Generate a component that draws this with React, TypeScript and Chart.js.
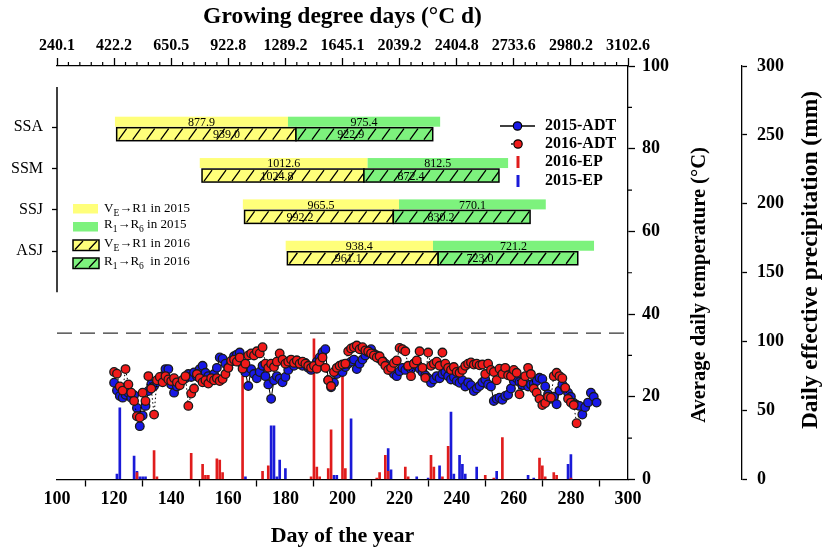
import React, { useEffect, useRef } from 'react';
import { Chart, registerables } from 'chart.js';
Chart.register(...registerables);

const FONT = "'Liberation Serif', 'Times New Roman', Times, serif";

// ---------- data ----------
const categories = ['SSA', 'SSM', 'SSJ', 'ASJ'];
const categoryLevels = [85.2, 75.2, 65.2, 55.2]; // position of each category on the temperature axis
const separatorLevel = 35.4;
const leftAxisTop = 94.9;
const leftAxisBottom = 45.3;

const gddTickLabels = ['240.1', '422.2', '650.5', '922.8', '1289.2', '1645.1', '2039.2', '2404.8', '2733.6', '2980.2', '3102.6'];

// phenology (day of year)
const ve2015 = [120.3, 150.0, 165.1, 180.1];
const r1_2015 = [180.9, 208.8, 219.8, 231.7];
const r6_2015 = [234.2, 258.0, 271.2, 288.1];
const ve2016 = [120.9, 150.8, 165.7, 180.7];
const r1_2016 = [183.7, 207.5, 217.8, 233.5];
const r6_2016 = [231.6, 254.8, 265.7, 282.4];
// accumulated GDD labels
const gddVeR1_2015 = ['877.9', '1012.6', '965.5', '938.4'];
const gddR1R6_2015 = ['975.4', '812.5', '770.1', '721.2'];
const gddVeR1_2016 = ['939.0', '1024.8', '992.2', '961.1'];
const gddR1R6_2016 = ['922.9', '872.4', '830.2', '723.0'];
const labelDayVeR1_2016 = [159.4, 177.1, 185.1, 202.0];
const labelDayR1R6_2016 = [202.9, 224.0, 234.5, 248.2];

// average daily temperature, starting day 120
const adtStartDay = 120;
const adt2015 = [
  23.4, 21.5, 20.2, 19.8, 20.5, 21.0, 19.8, 20.4, 17.3, 12.9,
  15.5, 17.8, 21.4, 23.0, 22.6, 23.5, 24.3, 25.0, 26.7, 26.7,
  23.0, 21.0, 22.5, 23.4, 24.0, 24.5, 25.5, 24.8, 25.9, 25.0,
  26.7, 27.5, 25.8, 25.0, 24.2, 25.5, 27.0, 29.5, 29.2, 28.0,
  27.0, 28.5, 29.8, 30.2, 30.7, 27.5, 25.9, 22.6, 26.7, 25.5,
  24.5, 26.0, 27.5, 25.0, 23.0, 19.5, 24.0, 25.0, 24.4, 23.5,
  24.8, 26.5, 28.3, 27.5, 28.8, 28.0, 27.5, 28.2, 27.0, 26.5,
  27.2, 28.5, 29.5, 30.8, 31.5, 24.0, 22.3, 23.4, 25.5, 26.8,
  26.0, 27.2, 28.0, 28.5, 29.0, 26.7, 28.0, 29.0, 30.0, 30.8,
  31.5, 30.4, 30.0, 29.2, 28.7, 28.0, 27.0, 26.3, 25.5, 25.0,
  26.2, 27.0, 26.5, 27.3, 26.7, 28.0, 27.5, 26.8, 26.0, 25.2,
  24.5, 23.4, 24.2, 25.0, 24.5, 25.5, 26.0, 25.0, 24.2, 24.8,
  23.8, 23.4, 24.0, 22.5, 23.5, 22.8, 21.4, 22.0, 22.6, 23.5,
  24.2, 23.0, 22.5, 19.0, 19.5, 19.8, 19.3, 20.2, 20.5, 22.0,
  23.8, 24.5, 23.6, 22.8, 23.4, 22.5, 23.0, 23.2, 23.8, 24.6,
  24.3, 22.5, 20.6, 19.5, 20.0, 18.2, 21.5, 23.0, 22.0, 21.0,
  20.0, 18.5, 18.0, 17.8, 15.7, 17.5, 18.6, 21.0, 20.0, 18.6,
];
const adt2016 = [
  26.0, 25.6, 22.5, 21.5, 26.7, 23.0, 21.0, 19.0, 15.3, 15.0,
  21.0, 19.0, 25.0, 22.0, 15.7, 24.0, 24.8, 23.5, 25.0, 24.2,
  23.8, 24.5, 23.5, 22.8, 24.0, 25.0, 17.8, 20.8, 22.0, 25.5,
  24.5, 23.5, 24.0, 23.2, 24.5, 24.0, 24.5, 23.8, 24.3, 25.5,
  27.0, 28.7, 29.0, 28.5, 29.5, 26.8, 28.0, 30.0, 30.5, 30.0,
  31.0, 30.5, 32.0, 28.0, 27.0, 28.0, 27.2, 28.5, 30.5, 29.0,
  28.0, 28.5, 29.0, 28.2, 28.8, 28.0, 28.5, 28.0, 27.5, 27.0,
  27.5, 26.8, 28.5, 29.5, 27.0, 24.0, 22.6, 26.0, 27.0, 27.5,
  27.8, 28.0, 31.0, 31.7, 32.0, 32.4, 31.5, 32.0, 31.2, 31.0,
  30.5, 30.0, 29.5, 29.8, 28.5, 27.5, 26.5, 27.0, 28.2, 28.8,
  31.8, 31.5, 31.0, 27.5, 25.0, 28.0, 28.8, 31.0, 27.0, 24.6,
  30.7, 27.5, 28.0, 28.5, 27.5, 30.7, 28.0, 27.0, 26.5, 27.2,
  26.0, 25.8, 26.5, 27.5, 28.0, 28.3, 27.8, 28.0, 27.6, 27.8,
  25.5, 28.0, 26.5, 26.0, 24.0, 26.8, 25.5, 27.0, 25.2, 25.0,
  26.5, 25.8, 20.6, 23.5, 25.0, 27.0, 25.5, 22.0, 21.0, 19.5,
  18.0, 18.5, 20.0, 19.8, 25.0, 25.8, 25.0, 24.5, 22.2, 19.5,
  18.6, 18.0, 13.6,
];

// daily effective precipitation (mm)
const ep2015Days = [121, 122, 127, 128, 129, 130, 131, 166, 175, 176, 177, 178, 180, 197, 198, 203, 216, 217, 226, 230, 234, 238, 239, 241, 242, 243, 247, 254, 265, 267, 279, 280];
const ep2015 = [4, 52, 17, 6, 2, 2, 2, 2, 39, 39, 2, 14, 8, 3, 3, 44, 22.5, 7, 2, 1, 10, 49, 4, 17.5, 11, 4, 9, 6, 3, 1, 11, 18];
const ep2016Days = [128, 134, 135, 147, 151, 152, 153, 156, 157, 158, 165, 172, 174, 189, 190, 191, 192, 195, 196, 200, 201, 212, 213, 215, 216, 222, 223, 231, 232, 235, 237, 250, 253, 256, 269, 270, 271, 274, 275, 280];
const ep2016 = [5, 21, 2, 19, 11, 3, 3, 15, 14, 5, 75, 6, 10, 2, 102, 9, 2, 8, 36, 76, 8, 1, 5, 17.5, 6, 9, 2, 17.5, 9, 2, 24, 3, 1, 30.5, 15.5, 10, 2, 5, 3, 1];

// ---------- styles ----------
const YELLOW = '#ffff7a';
const GREEN = '#7df27d';
const RED = '#f01a1a';
const BLUE = '#1818e6';
const RED_BAR = '#e01c1c';
const BLUE_BAR = '#1a1ad8';

function drawHatched(ctx: CanvasRenderingContext2D, x0: number, y0: number, w: number, h: number, fill: string) {
  ctx.save();
  ctx.fillStyle = fill;
  ctx.fillRect(x0, y0, w, h);
  ctx.beginPath();
  ctx.rect(x0, y0, w, h);
  ctx.clip();
  ctx.strokeStyle = '#000';
  ctx.lineWidth = 1.3;
  ctx.beginPath();
  for (let sx = x0 + 2; sx < x0 + w + 2; sx += 14) {
    ctx.moveTo(sx, y0 + h - 1);
    ctx.lineTo(sx + 8, y0 + 1);
  }
  ctx.stroke();
  ctx.restore();
  ctx.save();
  ctx.strokeStyle = '#000';
  ctx.lineWidth = 1.5;
  ctx.strokeRect(x0, y0, w, h);
  ctx.restore();
}

type Part = { t: string; sub?: boolean };
function drawRich(ctx: CanvasRenderingContext2D, x: number, baseline: number, parts: Part[]) {
  let cx = x;
  ctx.textAlign = 'left';
  ctx.textBaseline = 'alphabetic';
  for (const p of parts) {
    ctx.font = p.sub ? `9.5px ${FONT}` : `13px ${FONT}`;
    ctx.fillText(p.t, cx, baseline + (p.sub ? 3.5 : 0));
    cx += ctx.measureText(p.t).width;
  }
}

const overlayPlugin = {
  id: 'overlay',
  afterDatasetsDraw(chart: any) {
    const ctx: CanvasRenderingContext2D = chart.ctx;
    const x = chart.scales.x;
    const y = chart.scales.y;
    const area = chart.chartArea;
    ctx.save();
    // dashed separator
    ctx.strokeStyle = '#333';
    ctx.lineWidth = 1.3;
    ctx.setLineDash([15, 8]);
    const ys = y.getPixelForValue(separatorLevel);
    ctx.beginPath();
    ctx.moveTo(area.left, ys);
    ctx.lineTo(area.right - 2, ys);
    ctx.stroke();
    ctx.setLineDash([]);
    // left axis segment
    ctx.strokeStyle = '#000';
    ctx.lineWidth = 1.5;
    ctx.beginPath();
    ctx.moveTo(area.left, y.getPixelForValue(leftAxisTop));
    ctx.lineTo(area.left, y.getPixelForValue(leftAxisBottom));
    ctx.stroke();

    // gantt bars
    categories.forEach((_c, i) => {
      const cp = y.getPixelForValue(categoryLevels[i]);
      const a = x.getPixelForValue(ve2015[i]);
      const b = x.getPixelForValue(r1_2015[i]);
      const e = x.getPixelForValue(r6_2015[i]);
      const t15 = cp - 10.5;
      const h15 = 10;
      ctx.fillStyle = YELLOW;
      ctx.fillRect(a, t15, b - a, h15);
      ctx.fillStyle = GREEN;
      ctx.fillRect(b, t15, e - b, h15);

      const a2 = x.getPixelForValue(ve2016[i]);
      const b2 = x.getPixelForValue(r1_2016[i]);
      const e2 = x.getPixelForValue(r6_2016[i]);
      const t16 = cp + 0.5;
      const h16 = 13;
      drawHatched(ctx, a2, t16, b2 - a2, h16, YELLOW);
      drawHatched(ctx, b2, t16, e2 - b2, h16, GREEN);

      ctx.fillStyle = '#000';
      ctx.font = `12px ${FONT}`;
      ctx.textAlign = 'center';
      ctx.textBaseline = 'middle';
      ctx.fillText(gddVeR1_2015[i], (a + b) / 2, t15 + h15 / 2 + 1);
      ctx.fillText(gddR1R6_2015[i], (b + e) / 2, t15 + h15 / 2 + 1);
      ctx.fillText(gddVeR1_2016[i], x.getPixelForValue(labelDayVeR1_2016[i]), t16 + h16 / 2 + 1);
      ctx.fillText(gddR1R6_2016[i], x.getPixelForValue(labelDayR1R6_2016[i]), t16 + h16 / 2 + 1);
    });

    // phase legend (left)
    ctx.fillStyle = YELLOW;
    ctx.fillRect(73, 204, 25, 9.5);
    ctx.fillStyle = GREEN;
    ctx.fillRect(73, 222, 25, 9.5);
    drawHatched(ctx, 73, 240, 26, 10.5, YELLOW);
    drawHatched(ctx, 73, 258, 26, 10.5, GREEN);
    ctx.fillStyle = '#000';
    drawRich(ctx, 104, 212, [{ t: 'V' }, { t: 'E', sub: true }, { t: '\u2192R1 in 2015' }]);
    drawRich(ctx, 104, 228, [{ t: 'R' }, { t: '1', sub: true }, { t: '\u2192R' }, { t: '6', sub: true }, { t: ' in 2015' }]);
    drawRich(ctx, 104, 247, [{ t: 'V' }, { t: 'E', sub: true }, { t: '\u2192R1 in 2016' }]);
    drawRich(ctx, 104, 265, [{ t: 'R' }, { t: '1', sub: true }, { t: '\u2192R' }, { t: '6', sub: true }, { t: '  in 2016' }]);

    // series legend (right)
    ctx.strokeStyle = '#000';
    ctx.lineWidth = 1.3;
    ctx.beginPath();
    ctx.moveTo(500, 126);
    ctx.lineTo(535, 126);
    ctx.stroke();
    ctx.beginPath();
    ctx.arc(517.5, 126, 4.2, 0, Math.PI * 2);
    ctx.fillStyle = BLUE;
    ctx.fill();
    ctx.lineWidth = 1.2;
    ctx.stroke();
    ctx.fillStyle = '#000';
    ctx.beginPath();
    ctx.arc(512, 144, 0.9, 0, Math.PI * 2);
    ctx.fill();
    ctx.beginPath();
    ctx.arc(518, 144, 4.2, 0, Math.PI * 2);
    ctx.fillStyle = RED;
    ctx.fill();
    ctx.stroke();
    ctx.fillStyle = RED_BAR;
    ctx.fillRect(516.5, 156, 3, 12);
    ctx.fillStyle = BLUE_BAR;
    ctx.fillRect(516.5, 175, 3, 12);
    ctx.fillStyle = '#000';
    ctx.font = `bold 16px ${FONT}`;
    ctx.textAlign = 'left';
    ctx.textBaseline = 'middle';
    ctx.fillText('2015-ADT', 545, 126);
    ctx.fillText('2016-ADT', 545, 144);
    ctx.fillText('2016-EP', 545, 162);
    ctx.fillText('2015-EP', 545, 181);
    ctx.restore();
  },
  afterDraw(chart: any) {
    const ctx: CanvasRenderingContext2D = chart.ctx;
    const x = chart.scales.x;
    const y = chart.scales.y;
    const area = chart.chartArea;
    ctx.save();
    ctx.strokeStyle = '#000';
    ctx.lineWidth = 1.2;
    ctx.beginPath();
    for (let d = 104; d < 300; d += 4) {
      if ((d - 100) % 20 === 0) continue;
      const px = x.getPixelForValue(d);
      ctx.moveTo(px, area.top);
      ctx.lineTo(px, area.top - 4);
    }
    for (let v = 10; v < 100; v += 20) {
      const py = y.getPixelForValue(v);
      ctx.moveTo(area.right, py);
      ctx.lineTo(area.right + 4, py);
    }
    ctx.stroke();
    // right axis titles
    ctx.fillStyle = '#000';
    ctx.font = `bold 20.5px ${FONT}`;
    ctx.textAlign = 'center';
    ctx.textBaseline = 'middle';
    ctx.translate(700, 285);
    ctx.rotate(-Math.PI / 2);
    ctx.fillText('Average daily temperature (\u00B0C)', 0, 0);
    ctx.restore();
    ctx.save();
    ctx.fillStyle = '#000';
    ctx.font = `bold 23.5px ${FONT}`;
    ctx.textAlign = 'center';
    ctx.textBaseline = 'middle';
    ctx.translate(811, 260);
    ctx.rotate(-Math.PI / 2);
    ctx.fillText('Daily effective precipitation (mm)', 0, 0);
    ctx.restore();
  },
};

const boldTick = (size: number) => ({ family: FONT, size, weight: 'bold' as const });

export default function App() {
  const ref = useRef<HTMLCanvasElement>(null);
  useEffect(() => {
    document.body.style.margin = '0';
    const cfg: any = {
      type: 'line',
      data: {
        datasets: [
          {
            type: 'line',
            label: '2016-ADT',
            data: adt2016.map((v, i) => ({ x: adtStartDay + i, y: v })),
            xAxisID: 'x',
            yAxisID: 'y',
            borderColor: '#000',
            borderWidth: 1,
            borderDash: [1.5, 2.5],
            pointRadius: 4.3,
            pointBackgroundColor: RED,
            pointBorderColor: '#1a1a1a',
            pointBorderWidth: 1.3,
            tension: 0,
            order: 1,
          },
          {
            type: 'line',
            label: '2015-ADT',
            data: adt2015.map((v, i) => ({ x: adtStartDay + i, y: v })),
            xAxisID: 'x',
            yAxisID: 'y',
            borderColor: '#000',
            borderWidth: 1,
            pointRadius: 4.3,
            pointBackgroundColor: BLUE,
            pointBorderColor: '#1a1a1a',
            pointBorderWidth: 1.3,
            tension: 0,
            order: 2,
          },
          {
            type: 'bar',
            label: '2016-EP',
            data: ep2016Days.map((d, i) => ({ x: d, y: ep2016[i] })),
            xAxisID: 'x',
            yAxisID: 'y2',
            backgroundColor: RED_BAR,
            barThickness: 2,
            grouped: false,
            order: 3,
          },
          {
            type: 'bar',
            label: '2015-EP',
            data: ep2015Days.map((d, i) => ({ x: d, y: ep2015[i] })),
            xAxisID: 'x',
            yAxisID: 'y2',
            backgroundColor: BLUE_BAR,
            barThickness: 2,
            grouped: false,
            order: 4,
          },
        ],
      },
      options: {
        responsive: false,
        animation: false,
        events: [],
        layout: { padding: 0 },
        plugins: { legend: { display: false }, tooltip: { enabled: false } },
        scales: {
          x: {
            type: 'linear',
            position: 'bottom',
            min: 100,
            max: 300,
            offset: false,
            ticks: { stepSize: 20, font: boldTick(18), color: '#000', padding: 2, maxRotation: 0, autoSkip: false },
            grid: { drawOnChartArea: false, tickLength: 7, color: '#000', tickWidth: 1.3 },
            border: { display: true, color: '#000', width: 1.3 },
            title: {
              display: true,
              text: 'Day of the year',
              color: '#000',
              font: { family: FONT, size: 22, weight: 'bold', lineHeight: 1 },
              padding: { top: 0, bottom: 0 },
            },
            afterFit: (s: any) => { s.height = 67.5; },
          },
          xTop: {
            type: 'linear',
            position: 'top',
            min: 100,
            max: 300,
            offset: false,
            ticks: {
              stepSize: 20,
              callback: (_v: any, i: number) => gddTickLabels[i],
              font: boldTick(16),
              color: '#000',
              padding: 3,
              maxRotation: 0,
              autoSkip: false,
            },
            grid: { drawOnChartArea: false, tickLength: 8, color: '#000', tickWidth: 1.3 },
            border: { display: true, color: '#000', width: 1.3 },
            title: {
              display: true,
              text: 'Growing degree days (\u00B0C d)',
              color: '#000',
              font: { family: FONT, size: 23.5, weight: 'bold', lineHeight: 1.2 },
              padding: { top: 3, bottom: 0 },
            },
            afterFit: (s: any) => { s.height = 66; },
          },
          yc: {
            type: 'linear',
            position: 'left',
            min: 0,
            max: 100,
            afterBuildTicks: (s: any) => { s.ticks = categoryLevels.map((v) => ({ value: v })); },
            ticks: {
              callback: (_v: any, i: number) => categories[i],
              font: { family: FONT, size: 16, weight: 'normal' },
              color: '#000',
              padding: 9,
              autoSkip: false,
            },
            grid: { drawOnChartArea: false, tickLength: 5, color: '#000', tickWidth: 1.3 },
            border: { display: false },
            afterFit: (s: any) => { s.width = 57; },
          },
          y: {
            type: 'linear',
            position: 'right',
            weight: 0,
            min: 0,
            max: 100,
            ticks: { stepSize: 20, font: boldTick(18), color: '#000', padding: 7 },
            grid: { drawOnChartArea: false, tickLength: 7, color: '#000', tickWidth: 1.3 },
            border: { display: true, color: '#000', width: 1.3 },
            afterFit: (s: any) => { s.width = 114; },
          },
          y2: {
            type: 'linear',
            position: 'right',
            weight: 1,
            min: 0,
            max: 300,
            ticks: { stepSize: 50, font: boldTick(18), color: '#000', padding: 10 },
            grid: { drawOnChartArea: false, tickLength: 5, color: '#000', tickWidth: 1.3 },
            border: { display: true, color: '#000', width: 1.3 },
            afterFit: (s: any) => { s.width = 82; },
          },
        },
      },
      plugins: [overlayPlugin],
    };
    const chart = new Chart(ref.current as HTMLCanvasElement, cfg);
    return () => chart.destroy();
  }, []);
  return (
    <div style={{ width: 824, height: 547 }}>
      <canvas ref={ref} width={824} height={547} style={{ display: 'block' }} />
    </div>
  );
}
